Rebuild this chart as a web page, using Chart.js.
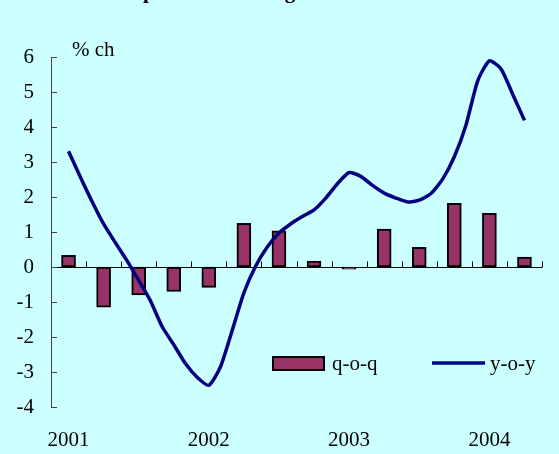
<!DOCTYPE html>
<html>
<head>
<meta charset="utf-8">
<script src="https://cdn.jsdelivr.net/npm/chart.js@4/dist/chart.umd.min.js"></script>
<style>
  html, body { margin: 0; padding: 0; background: #ccffff; }
  #wrap { width: 559px; height: 454px; }
</style>
</head>
<body>
<div id="wrap"><canvas id="gdpChart" width="559" height="454"></canvas></div>
<script>
// months from 2001-01 to 2004-06, one category per month
const months = [];
for (let y = 2001; y <= 2004; y++) {
    for (let m = 1; m <= 12; m++) {
        if (y === 2004 && m > 6) break;
        months.push(y + '-' + String(m).padStart(2, '0'));
    }
}
const yearTicks = ['2001', '2002', '2003', '2004'];

// quarter-on-quarter growth, 2001Q1 .. 2004Q2
const quarters = ['2001Q1', '2001Q2', '2001Q3', '2001Q4', '2002Q1', '2002Q2', '2002Q3',
                  '2002Q4', '2003Q1', '2003Q2', '2003Q3', '2003Q4', '2004Q1', '2004Q2'];
const qoq = [0.33, -1.15, -0.8, -0.7, -0.58, 1.25, 1.03, 0.17, -0.06, 1.08, 0.56, 1.82, 1.53, 0.28];

// year-on-year growth, monthly (nothing plotted for first and last month)
const yoy = [null,
    3.31, 2.58, 1.88, 1.23, 0.70, 0.18, -0.38, -0.96, -1.70, -2.22, -2.76, -3.15,
    -3.38, -2.85, -1.81, -0.74, 0.02, 0.57, 0.97, 1.23, 1.44, 1.63, 1.97, 2.38,
    2.70, 2.59, 2.33, 2.11, 1.97, 1.86, 1.91, 2.10, 2.51, 3.15, 4.06, 5.32,
    5.89, 5.66, 4.93, 4.19,
    null];

const barColor = '#993366';
const lineColor = '#000080';
const serif = '"Liberation Serif", "Times New Roman", serif';

// bars sit in the middle month of each quarter
const qoqMonthly = months.map((m, i) => (i % 3 === 1 ? qoq[(i - 1) / 3] : null));

const bgPlugin = {
    id: 'bg',
    beforeDraw(chart) {
        const ctx = chart.ctx;
        ctx.save();
        ctx.fillStyle = '#ccffff';
        ctx.fillRect(0, 0, chart.width, chart.height);
        ctx.restore();
    }
};

// zero line plus the inward tick marks on both axes
const axisPlugin = {
    id: 'axisMarks',
    beforeDatasetsDraw(chart) {
        const { ctx, chartArea, scales } = chart;
        const x = scales.x, y = scales.y;
        const y0 = Math.round(y.getPixelForValue(0)) + 0.5;
        const step = x.getPixelForValue(1) - x.getPixelForValue(0);
        ctx.save();
        ctx.strokeStyle = '#000';
        ctx.lineWidth = 1;
        ctx.beginPath();
        ctx.moveTo(chartArea.left, y0);
        ctx.lineTo(chartArea.right, y0);
        for (let k = 1; k <= quarters.length; k++) {
            const px = Math.round(x.getPixelForValue(3 * k - 1) + step / 2) + 0.5;
            ctx.moveTo(px, y0);
            ctx.lineTo(px, y0 - 6);
        }
        ctx.stroke();
        ctx.strokeStyle = '#444';
        ctx.beginPath();
        for (let v = -4; v <= 6; v++) {
            const py = Math.round(y.getPixelForValue(v)) + 0.5;
            ctx.moveTo(chartArea.left, py);
            ctx.lineTo(chartArea.left + 6, py);
        }
        ctx.stroke();
        ctx.restore();
    }
};

const textPlugin = {
    id: 'texts',
    afterDraw(chart) {
        const { ctx, chartArea } = chart;
        ctx.save();
        // title, mostly cut off by the top edge
        ctx.fillStyle = '#000';
        ctx.font = 'bold 21px ' + serif;
        ctx.textBaseline = 'alphabetic';
        ctx.fillText('Japan: Real GDP growth rates', 122, -2);

        ctx.font = '21px ' + serif;
        ctx.textBaseline = 'middle';
        ctx.fillText('% ch', chartArea.left + 21, 50);

        // legend
        const ly = 364;
        ctx.fillStyle = barColor;
        ctx.fillRect(273, 357, 51, 13);
        ctx.strokeStyle = '#000';
        ctx.lineWidth = 2;
        ctx.strokeRect(273, 357, 51, 13);
        ctx.fillStyle = '#000';
        ctx.fillText('q-o-q', 332, ly);

        ctx.strokeStyle = lineColor;
        ctx.lineWidth = 3.5;
        ctx.beginPath();
        ctx.moveTo(432, ly - 1);
        ctx.lineTo(485, ly - 1);
        ctx.stroke();
        ctx.fillText('y-o-y', 490, ly);
        ctx.restore();
    }
};

new Chart(document.getElementById('gdpChart'), {
    type: 'bar',
    data: {
        labels: months,
        datasets: [
            {
                type: 'line',
                label: 'y-o-y',
                data: yoy,
                borderColor: lineColor,
                borderWidth: 3.5,
                pointRadius: 0,
                tension: 0.2,
                fill: false,
                order: 0
            },
            {
                label: 'q-o-q',
                data: qoqMonthly,
                backgroundColor: barColor,
                borderColor: '#000',
                borderWidth: 2,
                borderSkipped: false,
                barThickness: 14,
                order: 1
            }
        ]
    },
    options: {
        responsive: false,
        animation: false,
        devicePixelRatio: 1,
        layout: { padding: { left: 0, right: 17, top: 57, bottom: 0 } },
        plugins: {
            legend: { display: false },
            tooltip: { enabled: false },
            title: { display: false }
        },
        scales: {
            x: {
                type: 'category',
                offset: true,
                grid: { display: false, drawTicks: false },
                border: { display: false },
                afterFit(scale) { scale.height = 47; },
                ticks: {
                    autoSkip: false,
                    maxRotation: 0,
                    padding: 21,
                    color: '#000',
                    font: { family: serif, size: 21 },
                    callback: (val, i) => (i % 12 === 1 ? yearTicks[(i - 1) / 12] : '')
                }
            },
            y: {
                min: -4,
                max: 6,
                grid: { display: false, drawTicks: false },
                border: { display: true, color: '#444', width: 1 },
                afterFit(scale) { scale.width = 51; },
                ticks: {
                    stepSize: 1,
                    padding: 17,
                    color: '#000',
                    font: { family: serif, size: 21 }
                }
            }
        }
    },
    plugins: [bgPlugin, axisPlugin, textPlugin]
});
</script>
</body>
</html>
